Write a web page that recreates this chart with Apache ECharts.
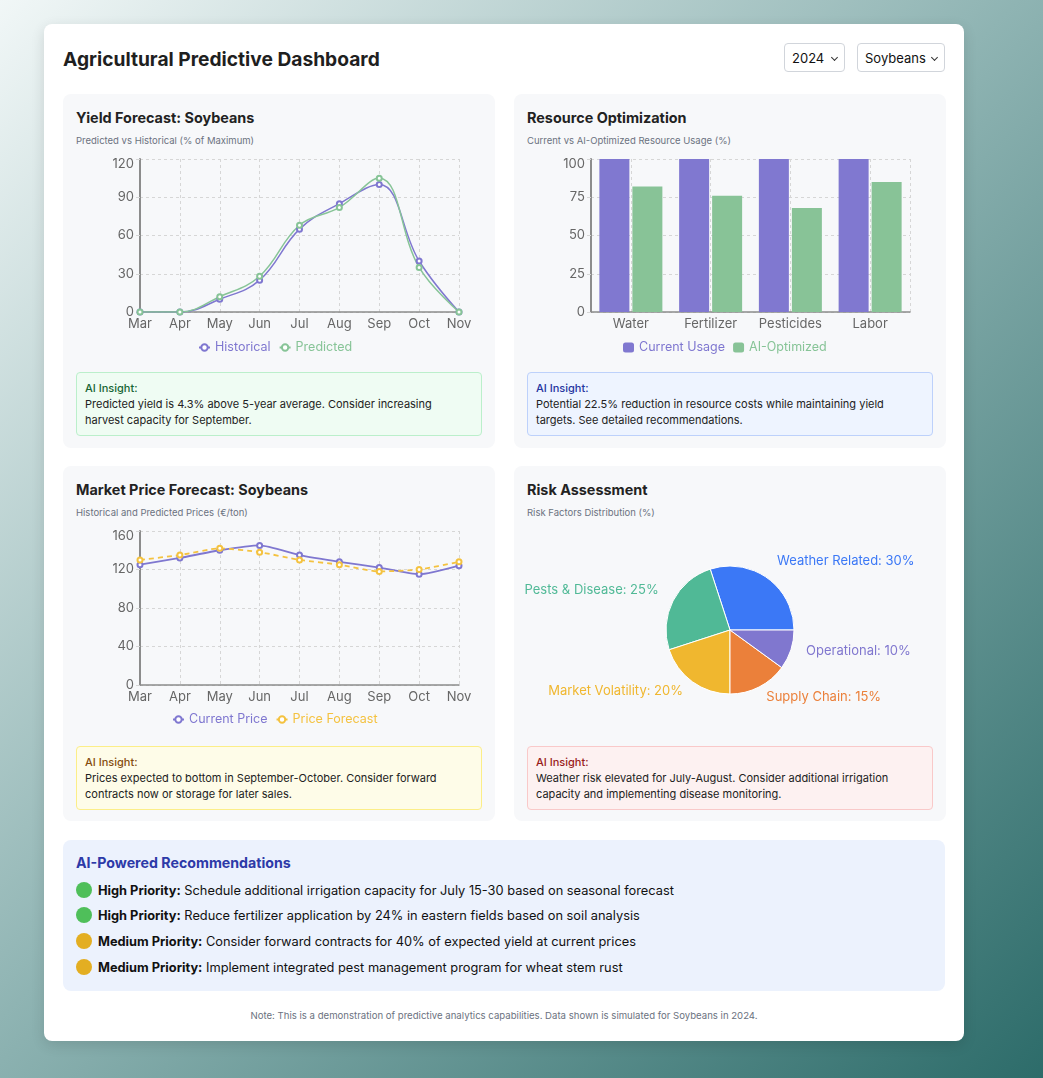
<!DOCTYPE html>
<html>
<head>
<meta charset="utf-8">
<script src="https://cdn.jsdelivr.net/npm/echarts@6/dist/echarts.min.js"></script>
<style>
  body { margin: 0; width: 1043px; height: 1078px; overflow: hidden;
    font-family: Inter, "Noto Sans", sans-serif;
    background: linear-gradient(135deg, #f1f7f7 0%, #8fb4b3 48%, #2d6c6a 100%); }
  .card { position: absolute; left: 44px; top: 24px; width: 920px; height: 1017px;
    background: #fff; border-radius: 8px; box-shadow: 0 4px 14px rgba(0,0,0,0.12); }
  .title { position: absolute; left: 19px; top: 23px; font-size: 19.2px; font-weight: 700; color: #1f1f1f; line-height: 24px; }
  .sel { position: absolute; top: 19px; height: 29px; box-sizing: border-box; border: 1px solid #d1d5db; border-radius: 4px;
    background: #fff; color: #111; font-size: 13px; line-height: 29px; padding-left: 7px; }
  .sel::after { content: ''; position: absolute; right: 7px; top: 11px; width: 4px; height: 4px;
    border-right: 1.5px solid #333; border-bottom: 1.5px solid #333; transform: rotate(45deg); }
  .panel { position: absolute; width: 432px; background: #f7f8fa; border-radius: 8px; }
  .ptitle { position: absolute; left: 13px; top: 14px; font-size: 14.4px; font-weight: 700; color: #222; line-height: 20px; }
  .psub { position: absolute; left: 13px; top: 41px; font-size: 9.5px; color: #6b7280; line-height: 12px; }
  .chart { position: absolute; left: 0; top: 56px; width: 432px; height: 210px; }
  .insight { position: absolute; left: 13px; width: 388px; border-radius: 4px; border: 1px solid; padding: 7px 8px;
    font-size: 11px; line-height: 16px; color: #222; }
  .insight b { font-weight: 500; display: block; }
  .recs { position: absolute; left: 19px; top: 816px; width: 882px; height: 151px; background: #ecf2fd; border-radius: 8px; }
  .recs h3 { position: absolute; left: 13px; top: 13px; margin: 0; font-size: 14.2px; font-weight: 700; color: #2d3aa8; line-height: 20px; }
  .rec { position: absolute; left: 13px; font-size: 12.8px; color: #111; line-height: 18px; white-space: nowrap; }
  .dot { display: inline-block; width: 16px; height: 16px; border-radius: 50%; vertical-align: -3px; margin-right: 6px; }
  .note { position: absolute; left: 0; width: 920px; top: 986px; text-align: center; font-size: 9.6px; color: #6b7280; }
</style>
</head>
<body>
<div class="card">
  <div class="title">Agricultural Predictive Dashboard</div>
  <div class="sel" style="left:740px;width:61px">2024</div>
  <div class="sel" style="left:813px;width:88px">Soybeans</div>

  <div class="panel" style="left:19px;top:70px;height:354px">
    <div class="ptitle">Yield Forecast: Soybeans</div>
    <div class="psub">Predicted vs Historical (% of Maximum)</div>
    <div class="chart" id="yield-chart"></div>
    <div class="insight" style="top:278px;background:#effcf3;border-color:#bbefcb">
      <b style="color:#166534">AI Insight:</b>Predicted yield is 4.3% above 5-year average. Consider increasing harvest capacity for September.</div>
  </div>

  <div class="panel" style="left:470px;top:70px;height:354px">
    <div class="ptitle">Resource Optimization</div>
    <div class="psub">Current vs AI-Optimized Resource Usage (%)</div>
    <div class="chart" id="bar-chart"></div>
    <div class="insight" style="top:278px;background:#eef4ff;border-color:#bdd1fb">
      <b style="color:#2535a0">AI Insight:</b>Potential 22.5% reduction in resource costs while maintaining yield targets. See detailed recommendations.</div>
  </div>

  <div class="panel" style="left:19px;top:442px;height:355px">
    <div class="ptitle">Market Price Forecast: Soybeans</div>
    <div class="psub">Historical and Predicted Prices (€/ton)</div>
    <div class="chart" id="price-chart"></div>
    <div class="insight" style="top:280px;background:#fefce8;border-color:#fcee88">
      <b style="color:#854d0e">AI Insight:</b>Prices expected to bottom in September-October. Consider forward contracts now or storage for later sales.</div>
  </div>

  <div class="panel" style="left:470px;top:442px;height:355px">
    <div class="ptitle">Risk Assessment</div>
    <div class="psub">Risk Factors Distribution (%)</div>
    <div class="chart" id="risk-chart"></div>
    <div class="insight" style="top:280px;background:#fdf1f1;border-color:#f9c9c9">
      <b style="color:#991b1b">AI Insight:</b>Weather risk elevated for July-August. Consider additional irrigation capacity and implementing disease monitoring.</div>
  </div>

  <div class="recs">
    <h3>AI-Powered Recommendations</h3>
    <div class="rec" style="top:42px"><span class="dot" style="background:#4fbf5a"></span><b>High Priority:</b> Schedule additional irrigation capacity for July 15-30 based on seasonal forecast</div>
    <div class="rec" style="top:67px"><span class="dot" style="background:#4fbf5a"></span><b>High Priority:</b> Reduce fertilizer application by 24% in eastern fields based on soil analysis</div>
    <div class="rec" style="top:93px"><span class="dot" style="background:#e3ae22"></span><b>Medium Priority:</b> Consider forward contracts for 40% of expected yield at current prices</div>
    <div class="rec" style="top:119px"><span class="dot" style="background:#e3ae22"></span><b>Medium Priority:</b> Implement integrated pest management program for wheat stem rust</div>
  </div>

  <div class="note">Note: This is a demonstration of predictive analytics capabilities. Data shown is simulated for Soybeans in 2024.</div>
</div>

<script>
// data
var months = ['Mar', 'Apr', 'May', 'Jun', 'Jul', 'Aug', 'Sep', 'Oct', 'Nov'];
var historicalYield = [0, 0, 10, 25, 65, 85, 100, 40, 0];
var predictedYield = [0, 0, 12, 28, 68, 82, 105, 35, 0];

var resources = ['Water', 'Fertilizer', 'Pesticides', 'Labor'];
var currentUsage = [100, 100, 100, 100];
var optimizedUsage = [82, 76, 68, 85];

var currentPrice = [125, 132, 140, 145, 135, 128, 122, 115, 124];
var priceForecast = [130, 135, 142, 138, 130, 125, 118, 120, 128];

var riskNames = ['Weather Related', 'Pests & Disease', 'Market Volatility', 'Supply Chain', 'Operational'];
var riskValues = [30, 25, 20, 15, 10];
var riskColors = ['#3b78f6', '#50b996', '#f0b72f', '#eb803a', '#8077cf'];

var PURPLE = '#7f77d0';
var GREEN = '#87c497';
var YELLOW = '#f4c240';
var FONT = 'Inter';

function axisX(data, boundaryGap) {
    return {
        type: 'category',
        data: data,
        boundaryGap: boundaryGap,
        axisLine: { lineStyle: { color: '#8c8c8c', width: 1.5 } },
        axisTick: { show: false },
        axisLabel: { color: '#666', fontSize: 13, margin: 6, interval: 0, fontFamily: FONT },
        splitLine: { show: !boundaryGap, lineStyle: { color: '#d6d6d6', type: [3, 3] } }
    };
}

function axisY(max, interval) {
    return {
        type: 'value',
        min: 0,
        max: max,
        interval: interval,
        axisLine: { show: true, lineStyle: { color: '#8c8c8c', width: 2 } },
        axisTick: { show: true, length: 4, lineStyle: { color: '#d6d6d6' } },
        axisLabel: {
            color: '#666', fontSize: 13, margin: 6, fontFamily: FONT,
            // the top label sits a little below its grid line
            formatter: function (v) { return v === max ? '{top|' + v + '}' : String(v); },
            rich: { top: { color: '#666', fontSize: 13, fontFamily: FONT, padding: [10, 0, 0, 0] } }
        },
        splitLine: { lineStyle: { color: '#d6d6d6', type: [3, 3] } }
    };
}

function legendItem(name, color) {
    return { name: name, textStyle: { color: color } };
}

function YieldChart() {
    var chart = echarts.init(document.getElementById('yield-chart'));
    var option = {
        animation: false,
        textStyle: { fontFamily: FONT },
        grid: { left: 77, right: 36, top: 9, bottom: 48 },
        legend: {
            top: 186, left: 130, itemWidth: 11, itemHeight: 8, itemGap: 8,
            textStyle: { fontSize: 12.5, fontFamily: FONT },
            data: [legendItem('Historical', PURPLE), legendItem('Predicted', GREEN)]
        },
        xAxis: axisX(months, false),
        yAxis: axisY(120, 30),
        series: [{
            name: 'Historical', type: 'line', smooth: 0.4, data: historicalYield,
            symbol: 'emptyCircle', symbolSize: 5, color: PURPLE,
            lineStyle: { width: 1.5 }
        }, {
            name: 'Predicted', type: 'line', smooth: 0.4, data: predictedYield,
            symbol: 'emptyCircle', symbolSize: 5, color: GREEN,
            lineStyle: { width: 1.5 }
        }]
    };
    chart.setOption(option);
}

function BarChart() {
    var chart = echarts.init(document.getElementById('bar-chart'));
    var x = axisX(resources, true);
    // helper axis: dashed lines through the category centres and the right edge
    var helper = {
        type: 'category', boundaryGap: false, position: 'bottom',
        data: ['', '', '', '', '', '', '', '', ''],
        axisLine: { show: false }, axisTick: { show: false }, axisLabel: { show: false },
        splitLine: {
            show: true,
            interval: function (i) { return i % 2 === 1 || i === 8; },
            lineStyle: { color: '#d6d6d6', type: [3, 3] }
        }
    };
    var option = {
        animation: false,
        textStyle: { fontFamily: FONT },
        grid: { left: 77, right: 36, top: 9, bottom: 48 },
        legend: {
            top: 186, left: 104, itemWidth: 11, itemHeight: 10, itemGap: 8,
            textStyle: { fontSize: 12.5, fontFamily: FONT },
            data: [legendItem('Current Usage', PURPLE), legendItem('AI-Optimized', GREEN)]
        },
        xAxis: [x, helper],
        yAxis: axisY(100, 25),
        series: [{
            name: 'Current Usage', type: 'bar', data: currentUsage,
            barWidth: 30, barGap: '10%', color: '#8078d0'
        }, {
            name: 'AI-Optimized', type: 'bar', data: optimizedUsage,
            barWidth: 30, color: '#88c397'
        }]
    };
    chart.setOption(option);
}

function PriceChart() {
    var chart = echarts.init(document.getElementById('price-chart'));
    var option = {
        animation: false,
        textStyle: { fontFamily: FONT },
        grid: { left: 77, right: 36, top: 9, bottom: 47 },
        legend: {
            top: 186, left: 104, itemWidth: 11, itemHeight: 8, itemGap: 8,
            textStyle: { fontSize: 12.5, fontFamily: FONT },
            data: [legendItem('Current Price', PURPLE), legendItem('Price Forecast', YELLOW)]
        },
        xAxis: axisX(months, false),
        yAxis: axisY(160, 40),
        series: [{
            name: 'Current Price', type: 'line', smooth: 0.2, data: currentPrice,
            symbol: 'emptyCircle', symbolSize: 5, color: PURPLE,
            lineStyle: { width: 1.8 }
        }, {
            name: 'Price Forecast', type: 'line', smooth: 0.2, data: priceForecast,
            symbol: 'emptyCircle', symbolSize: 5, color: YELLOW,
            lineStyle: { width: 1.8, type: [5, 4] }
        }]
    };
    chart.setOption(option);
}

function RiskChart() {
    var chart = echarts.init(document.getElementById('risk-chart'));
    var pieData = riskNames.map(function (n, i) {
        return {
            name: n, value: riskValues[i],
            itemStyle: { color: riskColors[i] },
            label: { color: riskColors[i] }
        };
    });
    var option = {
        animation: false,
        series: [{
            type: 'pie',
            center: [216, 108],
            radius: 64,
            startAngle: 0,
            clockwise: false,
            data: pieData,
            itemStyle: { borderColor: '#fff', borderWidth: 1 },
            label: {
                formatter: '{b}: {c}%', fontSize: 13, fontFamily: FONT,
                overflow: 'none', distanceToLabelLine: 0
            },
            labelLine: { show: false, length: 16, length2: 0 },
            labelLayout: { dy: -4 }
        }]
    };
    chart.setOption(option);
}

YieldChart();
BarChart();
PriceChart();
RiskChart();
</script>
</body>
</html>
